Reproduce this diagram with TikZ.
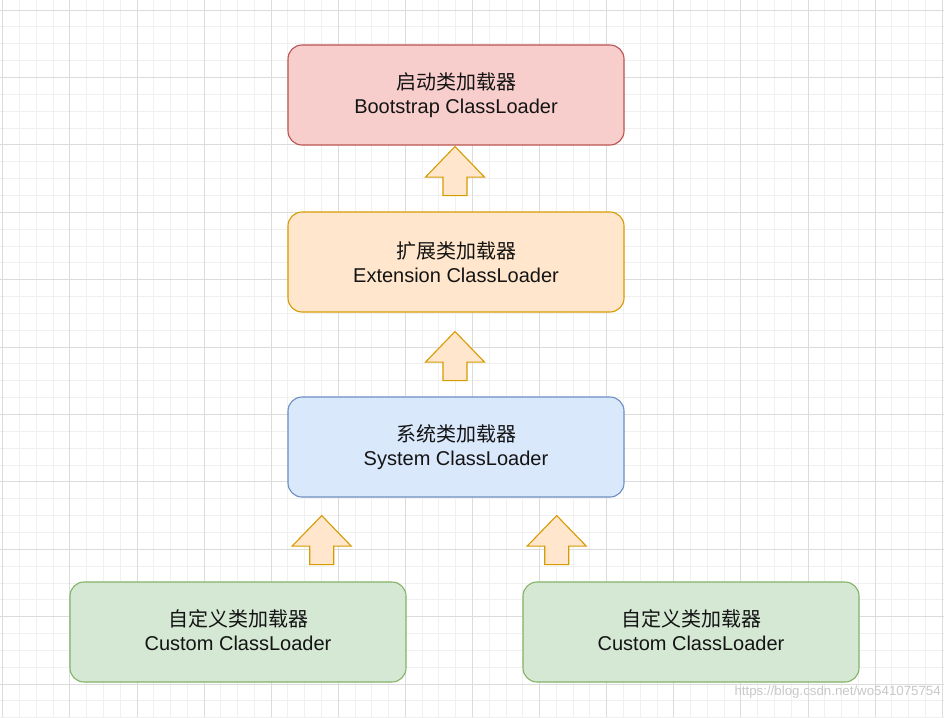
\documentclass[tikz,border=0pt]{standalone}
\usepackage{fontspec}
\setmainfont{Liberation Sans}
\newfontfamily\cjk{Noto Sans CJK SC}
\usetikzlibrary{calc}
\definecolor{gridminor}{HTML}{F0F0F0}
\definecolor{gridmajor}{HTML}{DCDCDC}
\definecolor{redfill}{HTML}{F8CECC}\definecolor{redline}{HTML}{B85450}
\definecolor{orfill}{HTML}{FFE6CC}\definecolor{orline}{HTML}{D79B00}
\definecolor{bluefill}{HTML}{DAE8FC}\definecolor{blueline}{HTML}{6C8EBF}
\definecolor{grfill}{HTML}{D5E8D4}\definecolor{grline}{HTML}{82B366}
\definecolor{wmark}{HTML}{C8C8C8}
\tikzset{
  minorgrid/.style={draw=gridminor,line width=0.8pt},
  majorgrid/.style={draw=gridmajor,line width=0.8pt},
  loaderbox/.style={rectangle,rounded corners=14pt,line width=1.1pt,
    minimum width=336pt,minimum height=100pt,align=center,text=black!92,
    font=\fontsize{20}{23.5}\selectfont},
  bootbox/.style={loaderbox,fill=redfill,draw=redline},
  extbox/.style={loaderbox,fill=orfill,draw=orline},
  sysbox/.style={loaderbox,fill=bluefill,draw=blueline},
  custbox/.style={loaderbox,fill=grfill,draw=grline},
  arrowstyle/.style={fill=orfill,draw=orline,line width=1.1pt,line join=miter},
  fatarrow/.pic={\path[arrowstyle] (0,0) -- (29.5,30.5) -- (12,30.5) -- (12,49) -- (-12,49) -- (-12,30.5) -- (-29.5,30.5) -- cycle;}
}
\begin{document}
\begin{tikzpicture}[x=1pt,y=-1pt]
\useasboundingbox (0,0) rectangle (944,717);
\fill[white] (0,0) rectangle (944,717);
% grid
\foreach \i in {0,...,56} {\draw[minorgrid] ({2.7+16.775*\i},0) -- ({2.7+16.775*\i},717);}
\foreach \j in {0,...,42} {\draw[minorgrid] (0,{10+16.85*\j}) -- (944,{10+16.85*\j});}
\foreach \i in {0,...,14} {\draw[majorgrid] ({2.7+67.1*\i},0) -- ({2.7+67.1*\i},717);}
\foreach \j in {0,...,10} {\draw[majorgrid] (0,{10+67.4*\j}) -- (944,{10+67.4*\j});}
% boxes
\node[bootbox] (boot) at (456,95) {{\cjk\fontsize{20}{23.5}\selectfont 启动类加载器}\\Bootstrap ClassLoader};
\node[extbox] (ext) at (456,262) {{\cjk\fontsize{20}{23.5}\selectfont 扩展类加载器}\\Extension ClassLoader};
\node[sysbox] (sys) at (456,447) {{\cjk\fontsize{20}{23.5}\selectfont 系统类加载器}\\System ClassLoader};
\node[custbox] (custa) at (238,632) {{\cjk\fontsize{20}{23.5}\selectfont 自定义类加载器}\\Custom ClassLoader\vphantom{p}};
\node[custbox] (custb) at (691,632) {{\cjk\fontsize{20}{23.5}\selectfont 自定义类加载器}\\Custom ClassLoader\vphantom{p}};
% fat arrows
\pic at ($(boot.south)+(-1,1)$) {fatarrow};
\pic at ($(ext.south)+(-1,19)$) {fatarrow};
\pic at ($(sys.south)+(-134.3,18)$) {fatarrow};
\pic at ($(sys.south)+(100.7,18)$) {fatarrow};
% watermark
\node[text=wmark,font=\fontsize{13.3}{15}\selectfont,anchor=east,inner sep=0pt] (wm) at (941,692) {https://blog.csdn.net/wo541075754};
\end{tikzpicture}
\end{document}
